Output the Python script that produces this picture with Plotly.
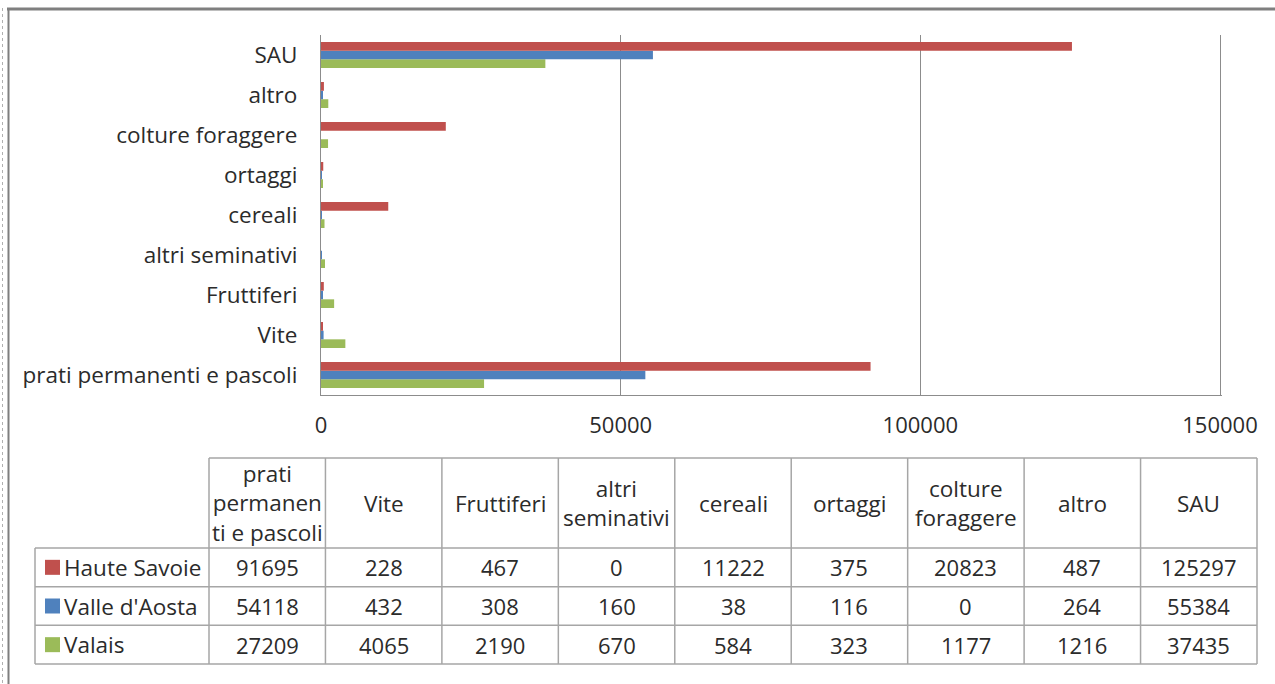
import plotly.graph_objects as go

# ---------------- data ----------------
categories = ["prati permanenti e pascoli", "Vite", "Fruttiferi", "altri seminativi",
              "cereali", "ortaggi", "colture foraggere", "altro", "SAU"]
header_labels = ["prati<br>permanen<br>ti e pascoli", "Vite", "Fruttiferi", "altri<br>seminativi",
                 "cereali", "ortaggi", "colture<br>foraggere", "altro", "SAU"]
series_names = ["Haute Savoie", "Valle d'Aosta", "Valais"]
haute_savoie = [91695, 228, 467, 0, 11222, 375, 20823, 487, 125297]
valle_aosta = [54118, 432, 308, 160, 38, 116, 0, 264, 55384]
valais = [27209, 4065, 2190, 670, 584, 323, 1177, 1216, 37435]
x_ticks = [0, 50000, 100000, 150000]

series_values = [haute_savoie, valle_aosta, valais]
colors = ["#C0504D", "#4F81BD", "#9BBB59"]

# ---------------- layout constants ----------------
W, H = 1275, 684
FONT = "Open Sans"
TXT = "#2b2b2b"
GRID = "#8c8c8c"
BORDER = "#a6a6a6"
LBL = 22.5   # label font size
NUM = 22     # number font size


def X(px):
    return px / W


def Y(py):
    return 1 - py / H


fig = go.Figure()
# add in reverse so Haute Savoie sits on top within each group
for name, vals, col in reversed(list(zip(series_names, series_values, colors))):
    fig.add_trace(go.Bar(y=categories, x=vals, name=name, orientation="h",
                         marker=dict(color=col, line=dict(width=0)), showlegend=False))

shapes = []
annotations = []

# outer frame
shapes.append(dict(type="line", xref="paper", yref="paper", x0=X(7), x1=X(1275), y0=Y(9), y1=Y(9),
                   line=dict(color="#7f7f7f", width=3)))
shapes.append(dict(type="line", xref="paper", yref="paper", x0=X(8.5), x1=X(8.5), y0=Y(8), y1=Y(684),
                   line=dict(color="#7f7f7f", width=2)))
shapes.append(dict(type="line", xref="paper", yref="paper", x0=X(2.5), x1=X(2.5), y0=Y(8), y1=Y(684),
                   line=dict(color="#b0b0b0", width=1, dash="dot")))

# ---------------- data table ----------------
first_left, first_right = 35, 209
col_w = (1257 - first_right) / len(categories)
header_top, header_bot = 458, 548
row_h = (664 - header_bot) / len(series_names)
table_bot = header_bot + row_h * len(series_names)
col_edges = [first_right + i * col_w for i in range(len(categories) + 1)]
row_edges = [header_bot + i * row_h for i in range(len(series_names) + 1)]

# horizontal lines
shapes.append(dict(type="line", xref="paper", yref="paper", x0=X(first_right), x1=X(col_edges[-1]),
                   y0=Y(header_top), y1=Y(header_top), line=dict(color=BORDER, width=1.5)))
for ry in row_edges:
    shapes.append(dict(type="line", xref="paper", yref="paper", x0=X(first_left), x1=X(col_edges[-1]),
                       y0=Y(ry), y1=Y(ry), line=dict(color=BORDER, width=1.5)))
# vertical lines
shapes.append(dict(type="line", xref="paper", yref="paper", x0=X(first_left), x1=X(first_left),
                   y0=Y(header_bot), y1=Y(table_bot), line=dict(color=BORDER, width=1.5)))
for cx in col_edges:
    shapes.append(dict(type="line", xref="paper", yref="paper", x0=X(cx), x1=X(cx),
                       y0=Y(header_top), y1=Y(table_bot), line=dict(color=BORDER, width=1.5)))

# header text
for i, lab in enumerate(header_labels):
    cx = (col_edges[i] + col_edges[i + 1]) / 2
    annotations.append(dict(xref="paper", yref="paper", x=X(cx), y=Y((header_top + header_bot) / 2),
                            text=lab, showarrow=False, xanchor="center", yanchor="middle",
                            font=dict(family=FONT, size=LBL, color=TXT)))

# rows
for r, (name, vals, col) in enumerate(zip(series_names, series_values, colors)):
    cy = (row_edges[r] + row_edges[r + 1]) / 2
    shapes.append(dict(type="rect", xref="paper", yref="paper", x0=X(45), x1=X(60),
                       y0=Y(cy - 7.5), y1=Y(cy + 7.5), fillcolor=col, line=dict(width=0)))
    annotations.append(dict(xref="paper", yref="paper", x=X(62), y=Y(cy), text=name, showarrow=False,
                            xanchor="left", yanchor="middle",
                            font=dict(family=FONT, size=LBL, color=TXT)))
    for i, v in enumerate(vals):
        cx = (col_edges[i] + col_edges[i + 1]) / 2
        annotations.append(dict(xref="paper", yref="paper", x=X(cx), y=Y(cy), text=str(v),
                                showarrow=False, xanchor="center", yanchor="middle",
                                font=dict(family=FONT, size=NUM, color=TXT)))

# extend the range a hair past the last tick so its gridline is drawn
x_max = x_ticks[-1] * 1.002
x_left_px, x_last_tick_px = 321, 1220
x_right_px = x_left_px + (x_last_tick_px - x_left_px) * x_max / x_ticks[-1]

fig.update_layout(
    width=W, height=H, autosize=False,
    margin=dict(l=0, r=0, t=0, b=0, pad=0),
    paper_bgcolor="white", plot_bgcolor="white",
    barmode="group", bargap=0.35, bargroupgap=0,
    font=dict(family=FONT, size=LBL, color=TXT),
    shapes=shapes, annotations=annotations,
    xaxis=dict(domain=[X(x_left_px), X(x_right_px)], range=[0, x_max], tickvals=x_ticks,
               ticktext=[str(t) for t in x_ticks], showgrid=True, gridcolor=GRID, gridwidth=1.3,
               zeroline=False, showline=True, linecolor=GRID, linewidth=1.3, automargin=False,
               ticks="", ticklabelstandoff=10, tickfont=dict(family=FONT, size=NUM, color=TXT)),
    yaxis=dict(domain=[Y(395), Y(35)], categoryorder="array", categoryarray=categories,
               showgrid=False, zeroline=False, showline=True, linecolor=GRID, linewidth=1.3,
               automargin=False,
               ticks="", ticklabelstandoff=18, tickfont=dict(family=FONT, size=LBL, color=TXT)),
)

fig.write_html("out.html", config={"responsive": False, "displayModeBar": False},
               post_script="document.body.style.margin='0';")
